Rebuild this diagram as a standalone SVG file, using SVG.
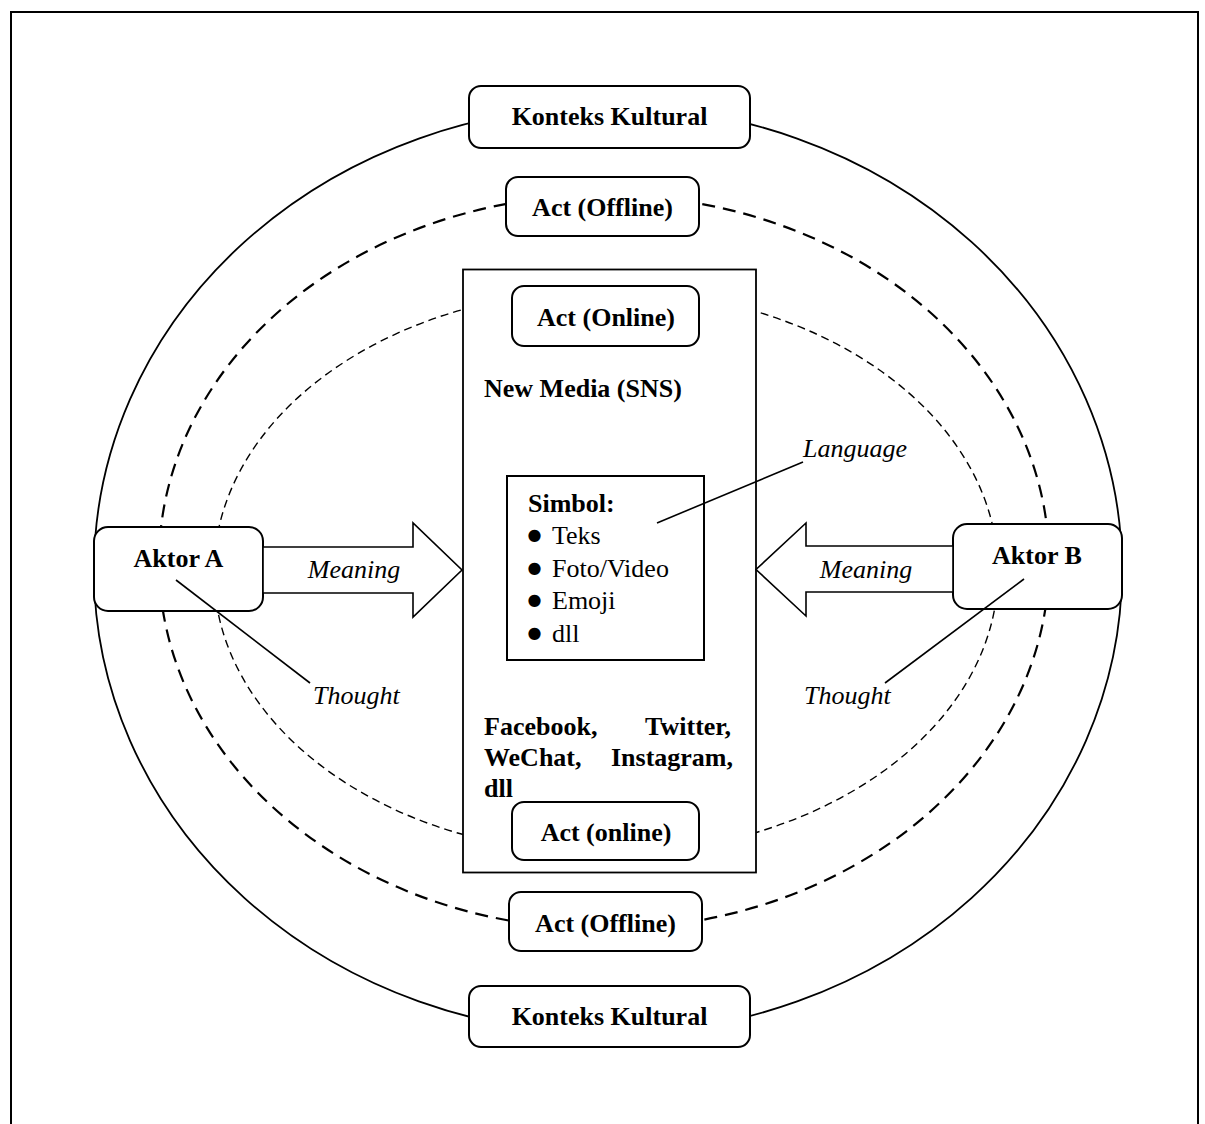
<svg xmlns="http://www.w3.org/2000/svg" width="1205" height="1124" viewBox="0 0 1205 1124">
<style>
text{font-family:"Liberation Serif","Times New Roman",serif;font-size:26px;fill:#000}
.b{font-weight:bold}
.i{font-style:italic}
.c{text-anchor:middle}
.bul{font-family:"DejaVu Sans",sans-serif;font-size:16px}
.box{fill:#fff;stroke:#000;stroke-width:2}
.ln{stroke:#000;stroke-width:1.6;fill:none}
.arr{fill:#fff;stroke:#000;stroke-width:1.6;stroke-linejoin:miter}
</style>
<rect width="1205" height="1124" fill="#fff"/>
<rect x="11" y="12" width="1187" height="1140" fill="none" stroke="#000" stroke-width="2"/>
<g id="rings">
<ellipse cx="608" cy="570" rx="514" ry="464" fill="none" stroke="#000" stroke-width="1.8"/>
<ellipse cx="604" cy="562" rx="445" ry="367" fill="none" stroke="#000" stroke-width="2.2" stroke-dasharray="13 8"/>
<ellipse cx="606" cy="572" rx="392" ry="282" fill="none" stroke="#000" stroke-width="1.4" stroke-dasharray="8 5"/>
</g>
<g id="new-media">
<rect x="463" y="269.5" width="293" height="603" fill="#fff" stroke="#000" stroke-width="1.8"/>
<text x="484" y="397" class="b">New Media (SNS)</text>
<text x="484" y="735" class="b">Facebook,</text>
<text x="731" y="735" class="b" text-anchor="end">Twitter,</text>
<text x="484" y="766" class="b">WeChat,</text>
<text x="733" y="766" class="b" text-anchor="end">Instagram,</text>
<text x="484" y="797" class="b">dll</text>
</g>
<g id="simbol">
<rect x="507" y="476" width="197" height="184" fill="#fff" stroke="#000" stroke-width="2"/>
<text x="528" y="512" class="b">Simbol:</text>
<text x="527.5" y="540" class="bul">●</text><text x="552" y="544">Teks</text>
<text x="527.5" y="573" class="bul">●</text><text x="552" y="577">Foto/Video</text>
<text x="527.5" y="605" class="bul">●</text><text x="552" y="609">Emoji</text>
<text x="527.5" y="638" class="bul">●</text><text x="552" y="642">dll</text>
</g>
<g id="konteks-top"><rect class="box" x="469" y="86" width="281" height="62" rx="12"/><text x="609.5" y="125" class="b c">Konteks Kultural</text></g>
<g id="offline-top"><rect class="box" x="506" y="177" width="193" height="59" rx="12"/><text x="602.5" y="216" class="b c">Act (Offline)</text></g>
<g id="online-top"><rect class="box" x="512" y="286" width="187" height="60" rx="12"/><text x="606" y="326" class="b c">Act (Online)</text></g>
<g id="online-bottom"><rect class="box" x="512" y="802" width="187" height="58" rx="12"/><text x="606" y="841" class="b c">Act (online)</text></g>
<g id="offline-bottom"><rect class="box" x="509" y="892" width="193" height="59" rx="12"/><text x="605.5" y="932" class="b c">Act (Offline)</text></g>
<g id="konteks-bottom"><rect class="box" x="469" y="986" width="281" height="61" rx="12"/><text x="609.5" y="1025" class="b c">Konteks Kultural</text></g>
<g id="aktor-a"><rect class="box" x="94" y="527" width="169" height="84" rx="14"/><text x="178.5" y="567" class="b c">Aktor A</text></g>
<g id="aktor-b"><rect class="box" x="953" y="524" width="169" height="85" rx="14"/><text x="1037" y="564" class="b c">Aktor B</text></g>
<g id="connectors">
<polygon class="arr" points="263,547 413,547 413,523 462,570 413,617 413,593 263,593"/>
<polygon class="arr" points="953,546 806,546 806,523 756,569.5 806,616 806,592 953,592"/>
<line class="ln" x1="657" y1="523" x2="803" y2="462"/>
<line class="ln" x1="176" y1="580" x2="310" y2="683"/>
<line class="ln" x1="1024" y1="579" x2="885" y2="683"/>
</g>
<g id="labels">
<text x="354" y="578" class="i c">Meaning</text>
<text x="866" y="578" class="i c">Meaning</text>
<text x="803" y="457" class="i">Language</text>
<text x="313" y="704" class="i">Thought</text>
<text x="804" y="704" class="i">Thought</text>
</g>
</svg>
